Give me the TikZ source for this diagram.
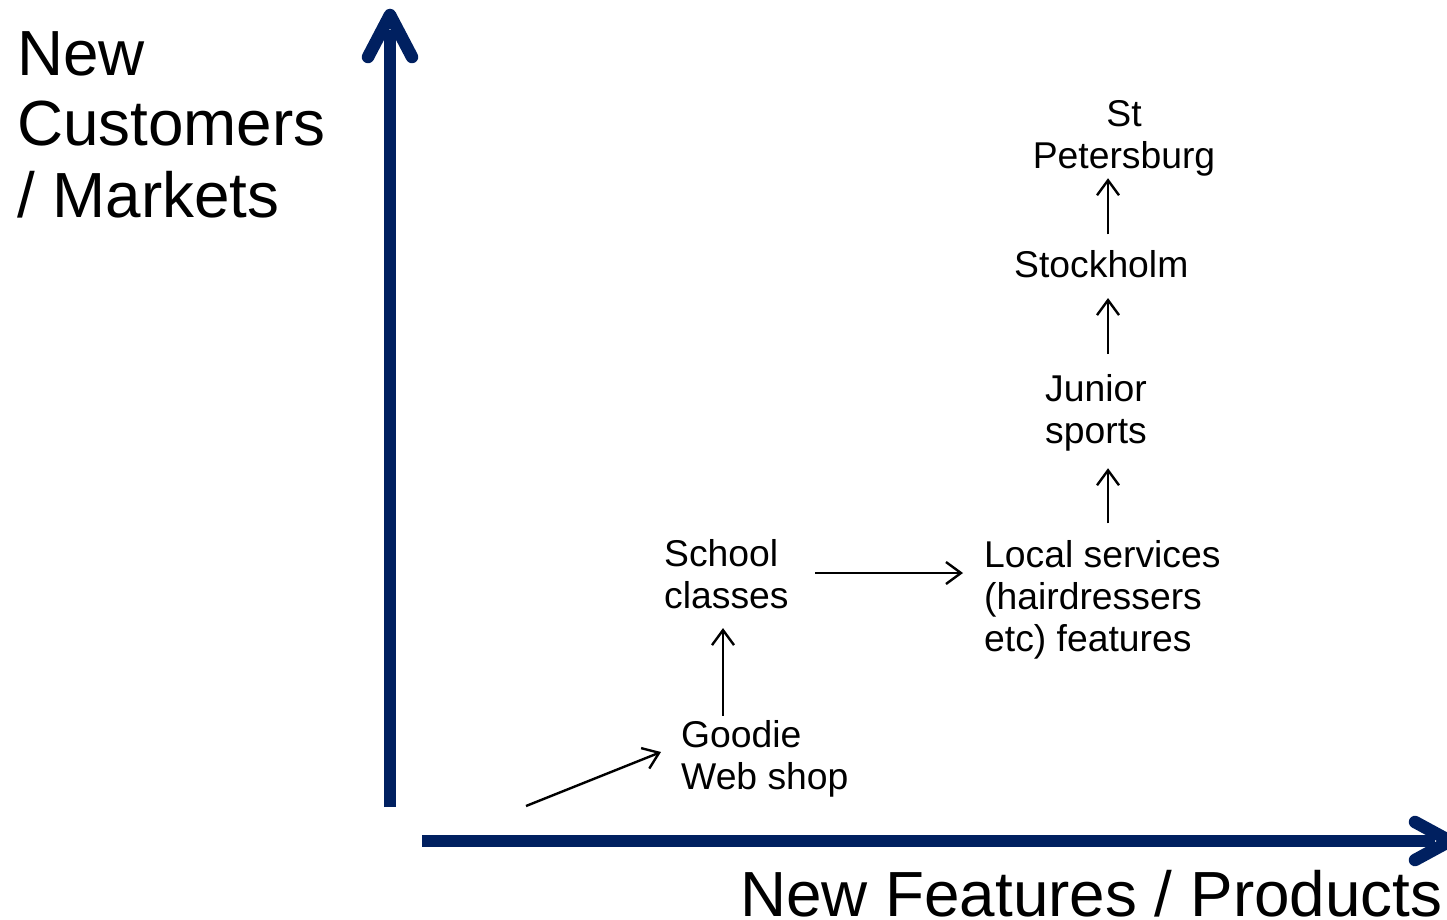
\documentclass[tikz,border=0pt]{standalone}
\usepackage{fontspec}
\setmainfont{Liberation Sans}
\usetikzlibrary{arrows.meta}
\definecolor{navy}{RGB}{0,32,96}
\begin{document}
\begin{tikzpicture}[x=1pt,y=-1pt,
  axisline/.style={draw=navy,line width=12.5pt},
  axistip/.style={draw=navy,line width=12.5pt,line cap=round,line join=round},
  biglabel/.style={font=\fontsize{63.8}{71}\selectfont, inner sep=0pt, align=left},
  lbl/.style={font=\fontsize{37.3}{42}\selectfont, inner sep=0pt},
  arr/.style={draw=black, line width=2.4pt, -{Straight Barb[length=15pt,width=22pt]}}]
\useasboundingbox (0,0) rectangle (1447,920);
\clip (0,0) rectangle (1447,920);
% labels (base anchor = baseline of last line)
\node[biglabel, anchor=base west] (ylab) at (17,217) {New\\Customers\\/ Markets};
\node[biglabel, anchor=base west] (xlab) at (740,916) {New Features / Products};
\node[lbl, align=center, anchor=base] (stp) at (1124,168) {St\\Petersburg};
\node[lbl, anchor=base west] (sto) at (1014,277) {Stockholm};
\node[lbl, align=center, anchor=base] (jun) at (1096,443) {Junior\\sports};
\node[lbl, align=left, anchor=base west] (loc) at (984,651) {Local services\\(hairdressers\\etc) features};
\node[lbl, align=left, anchor=base west] (sch) at (664,608) {School\\classes};
\node[lbl, align=left, anchor=base west] (goo) at (681,789) {Goodie\\Web shop};
% connectors
\coordinate (colR) at (1108,0);
\draw[arr, shorten <=15.5pt, shorten >=2.3pt] (colR |- sto.north) -- (colR |- stp.south);
\draw[arr, shorten <=19.7pt, shorten >=20.5pt] (colR |- jun.north) -- (colR |- sto.south);
\draw[arr, shorten <=16.5pt, shorten >=17.3pt] (colR |- loc.north) -- (colR |- jun.south);
\coordinate (rowS) at (0,573);
\draw[arr, shorten <=26.5pt, shorten >=21pt] (sch.east |- rowS) -- (loc.west |- rowS);
\coordinate (colS) at (723,0);
\draw[arr, shorten <=4pt, shorten >=19.5pt] (colS |- goo.north) -- (colS |- sch.south);
\coordinate (orig) at (526,806);
\coordinate (gtip) at (661,752);
\draw[arr] (orig) -- (gtip);
% axes
\coordinate (ybot) at (390,807);
\coordinate (ytop) at (390,15);
\draw[axisline] (ybot) -- (390,30);
\draw[axistip] (368,57) -- (ytop) -- (412,57);
\coordinate (xleft) at (422,841);
\coordinate (xright) at (1450,841);
\draw[axisline] (xleft) -- (1435,841);
\draw[axistip] (1415,822) -- (xright) -- (1415,860);
\end{tikzpicture}
\end{document}
